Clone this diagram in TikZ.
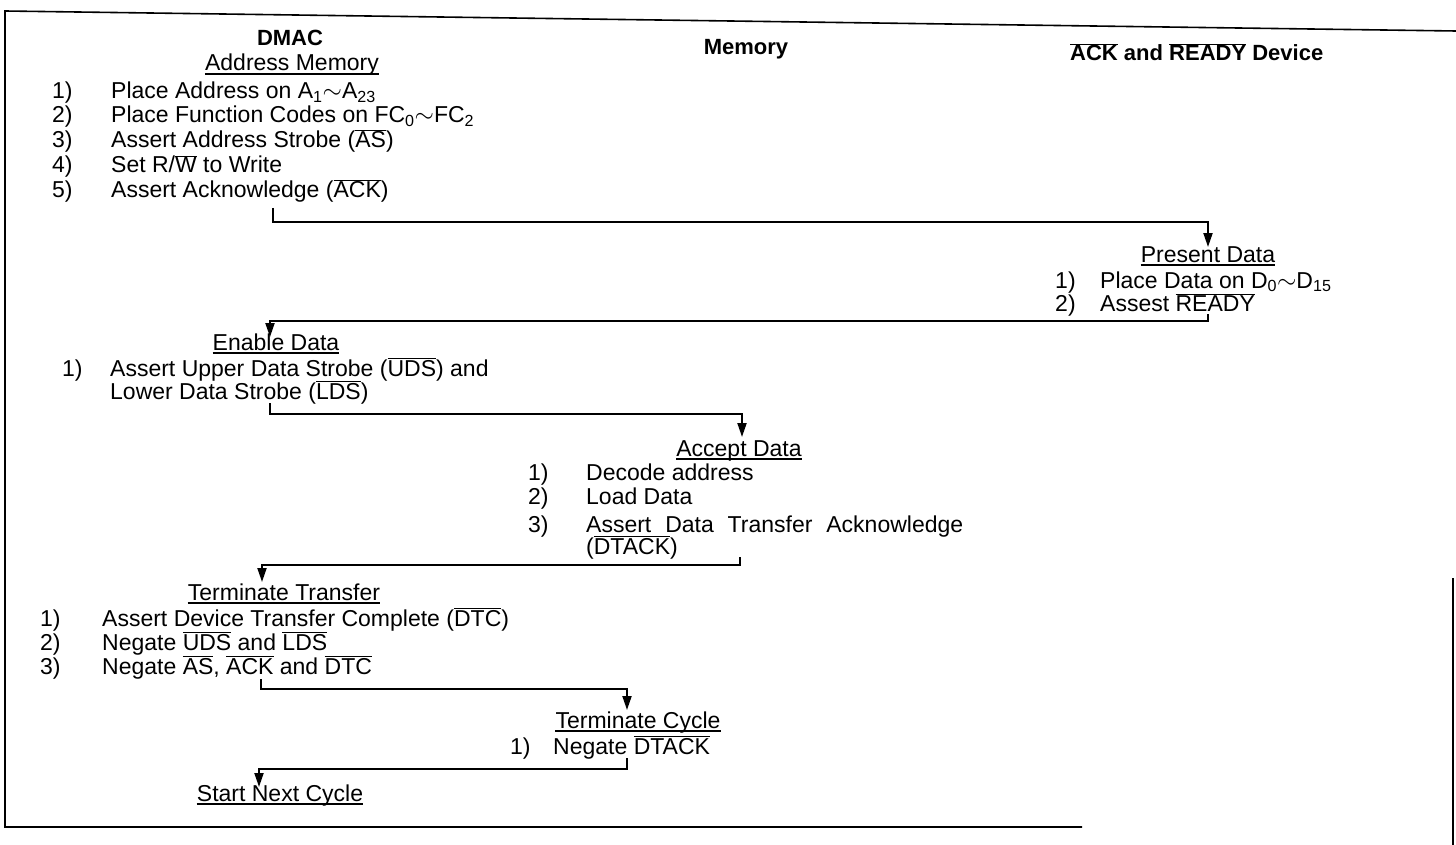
\documentclass[tikz,border=0pt]{standalone}
\usepackage{fontspec}
\setmainfont{Liberation Sans}
\usetikzlibrary{arrows.meta}

\newcommand{\ovl}[1]{$\overline{\mbox{#1}}$}
\newcommand{\nr}[2]{\makebox[#1pt][l]{#2}}

\begin{document}
\begin{tikzpicture}[x=1pt, y=-1pt,
  head/.style={anchor=base, inner sep=0pt, font=\fontsize{22}{26}\selectfont\bfseries},
  ttl/.style={anchor=base, inner sep=0pt, font=\fontsize{23}{27}\selectfont},
  item/.style={anchor=base west, inner sep=0pt, font=\fontsize{23}{27}\selectfont},
  flow/.style={-{Triangle[length=14pt, width=9pt]}, line width=2pt},
  uline/.style={line width=1.3pt}]
  \useasboundingbox (0,0) rectangle (1456,845);

  % frame of the scanned page
  \draw[line width=1.6pt] (1456,31) -- (5,11) -- (5,827) -- (1082,827);
  \draw[line width=1.6pt] (1453,578) -- (1453,845);

  % column heads
  \node[head] (dmac) at (290,46) {DMAC};
  \node[head] (mem)  at (746,55) {Memory};
  \node[head, anchor=base west] (dev) at (1070,61) {\ovl{ACK} and \ovl{READY} Device};

  % DMAC: address memory
  \node[ttl]  (addrmem) at (292,71) {Address Memory};
  \node[item] (am1) at (52,99)  {\nr{59}{1)}Place Address on A\textsubscript{1}$\sim$A\textsubscript{23}};
  \node[item] (am2) at (52,123) {\nr{59}{2)}Place Function Codes on FC\textsubscript{0}$\sim$FC\textsubscript{2}};
  \node[item] (am3) at (52,148) {\nr{59}{3)}Assert Address Strobe (\ovl{AS})};
  \node[item] (am4) at (52,173) {\nr{59}{4)}Set R/\ovl{W} to Write};
  \node[item] (am5) at (52,198) {\nr{59}{5)}Assert Acknowledge (\ovl{ACK})};

  % device: present data
  \node[ttl]  (present) at (1208,262) {Present Data};
  \node[item] (pd1) at (1055,288) {\nr{45}{1)}Place Data on D\textsubscript{0}$\sim$D\textsubscript{15}};
  \node[item] (pd2) at (1055,311) {\nr{45}{2)}Assest \ovl{READY}};

  % DMAC: enable data
  \node[ttl]  (enable) at (276,350) {Enable Data};
  \node[item] (ed1) at (62,376)  {\nr{48}{1)}Assert Upper Data Strobe (\ovl{UDS}) and};
  \node[item] (ed2) at (110,399) {Lower Data Strobe (\ovl{LDS})};

  % memory: accept data
  \node[ttl]  (accept) at (739,456) {Accept Data};
  \node[item] (ad1) at (528,480) {\nr{58}{1)}Decode address};
  \node[item] (ad2) at (528,504) {\nr{58}{2)}Load Data};
  \node[item] (ad3) at (528,532) {\nr{58}{3)}\makebox[377pt][s]{Assert Data Transfer Acknowledge}};
  \node[item] (ad4) at (586,554) {(\ovl{DTACK})};

  % DMAC: terminate transfer
  \node[ttl]  (termx) at (284,600) {Terminate Transfer};
  \node[item] (tt1) at (40,626) {\nr{62}{1)}Assert Device Transfer Complete (\ovl{DTC})};
  \node[item] (tt2) at (40,650) {\nr{62}{2)}Negate \ovl{UDS} and \ovl{LDS}};
  \node[item] (tt3) at (40,674) {\nr{62}{3)}Negate \ovl{AS}, \ovl{ACK} and \ovl{DTC}};

  % memory: terminate cycle
  \node[ttl]  (termc) at (638,728) {Terminate Cycle};
  \node[item] (tc1) at (510,754) {\nr{43}{1)}Negate \ovl{DTACK}};

  % DMAC: start next cycle
  \node[ttl]  (nextc) at (280,801) {Start Next Cycle};

  % underlined step titles
  \foreach \n in {addrmem, present, enable, accept, termx, termc, nextc}
    \draw[uline] ([yshift=-3pt]\n.base west) -- ([yshift=-3pt]\n.base east);

  % hand-over points
  \coordinate (s1) at (273,208);  \coordinate (e1) at (1208,247);
  \coordinate (s2) at (1208,314); \coordinate (e2) at (270,337);
  \coordinate (s3) at (270,403);  \coordinate (e3) at (742,437);
  \coordinate (s4) at (740,557);  \coordinate (e4) at (262,582);
  \coordinate (s5) at (261,679);  \coordinate (e5) at (627,710);
  \coordinate (s6) at (627,758);  \coordinate (e6) at (259,787);

  \draw[flow] (s1) -- ++(0,14) -| (e1);
  \draw[flow] (s2) -- ++(0,7)  -| (e2);
  \draw[flow] (s3) -- ++(0,11) -| (e3);
  \draw[flow] (s4) -- ++(0,8)  -| (e4);
  \draw[flow] (s5) -- ++(0,10) -| (e5);
  \draw[flow] (s6) -- ++(0,11) -| (e6);
\end{tikzpicture}
\end{document}
